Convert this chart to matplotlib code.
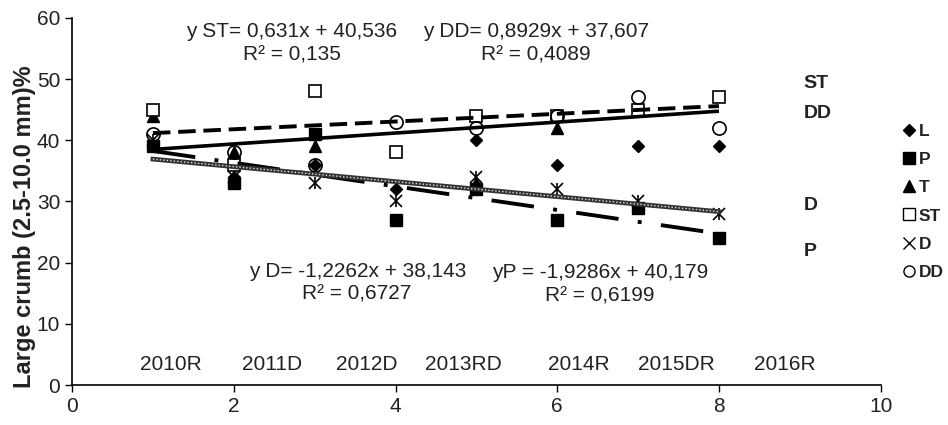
import numpy as np
import matplotlib
matplotlib.use("Agg")
import matplotlib.pyplot as plt
from matplotlib.lines import Line2D

plt.rcParams['font.family'] = ['Liberation Sans', 'DejaVu Sans']

# ---- data ----
x = [1, 2, 3, 4, 5, 6, 7, 8]
L = [39, 34, 36, 32, 40, 36, 39, 39]
P = [39, 33, 41, 27, 32, 27, 29, 24]
T = [44, 38, 39, np.nan, 33, 42, np.nan, np.nan]
ST = [45, 36, 48, 38, 44, 44, 45, 47]
D = [40, 34, 33, 30, 34, 32, 30, 28]
DD = [41, 38, 36, 43, 42, 44, 47, 42]

# trend line coefficients (slope, intercept) as shown on the chart
trend_ST = (0.631, 40.536)
trend_DD = (0.8929, 37.607)
trend_D = (-1.2262, 38.143)
trend_P = (-1.9286, 40.179)

year_labels = ["2010R", "2011D", "2012D", "2013RD", "2014R", "2015DR", "2016R"]
year_pos = [1.22, 2.47, 3.65, 4.84, 6.27, 7.47, 8.81]

fig = plt.figure(figsize=(9.48, 4.25), dpi=100)
ax = fig.add_axes([0.076, 0.094, 0.853, 0.864])

# markers
ms = 8
ax.plot(x, L, linestyle='none', marker='D', ms=6.5, color='black', zorder=3)
ax.plot(x, P, linestyle='none', marker='s', ms=ms, color='black', zorder=3)
ax.plot(x, T, linestyle='none', marker='^', ms=ms, color='black', zorder=3)
ax.plot(x, ST, linestyle='none', marker='s', ms=ms + 0.5, mfc='white', mec='black', mew=1.2, zorder=3)
ax.plot(x, D, linestyle='none', marker='x', ms=ms + 1, color='black', mew=1.2, zorder=3)
ax.plot(x, D, linestyle='none', marker='|', ms=ms + 1, color='black', mew=1.2, zorder=3)
ax.plot(x, DD, linestyle='none', marker='o', ms=ms + 1.5, mfc='none', mec='black', mew=1.2, zorder=3)

xl = np.array([min(x), max(x)])
ax.plot(xl, trend_DD[0] * xl + trend_DD[1], color='black', lw=2.6, solid_capstyle='butt', zorder=4)
ax.plot(xl, trend_ST[0] * xl + trend_ST[1], color='black', lw=2.8,
        linestyle=(0, (4.5, 2)), zorder=4)
ax.plot(xl, trend_P[0] * xl + trend_P[1], color='black', lw=2.8,
        linestyle=(0, (11, 5, 1, 5)), zorder=4)
ax.plot(xl, trend_D[0] * xl + trend_D[1], color='#333333', lw=3.4, zorder=4)
ax.plot(xl, trend_D[0] * xl + trend_D[1], color='#dddddd', lw=1.0,
        linestyle=(0, (1, 1.5)), zorder=4)

# equations
fs = 15
tc = '#222222'
ax.text(2.72, 57.7, "y ST= 0,631x + 40,536", ha='center', va='center', fontsize=fs, color=tc)
ax.text(2.72, 54.0, "R² = 0,135", ha='center', va='center', fontsize=fs, color=tc)
ax.text(5.74, 57.7, "y DD= 0,8929x + 37,607", ha='center', va='center', fontsize=fs, color=tc)
ax.text(5.74, 54.0, "R² = 0,4089", ha='center', va='center', fontsize=fs, color=tc)
ax.text(3.53, 18.6, "y D= -1,2262x + 38,143", ha='center', va='center', fontsize=fs, color=tc)
ax.text(3.52, 14.9, "R² = 0,6727", ha='center', va='center', fontsize=fs, color=tc)
ax.text(6.53, 18.4, "yP = -1,9286x + 40,179", ha='center', va='center', fontsize=fs, color=tc)
ax.text(6.53, 14.6, "R² = 0,6199", ha='center', va='center', fontsize=fs, color=tc)

# bold line labels
for lab, yy in [("ST", 49.3), ("DD", 44.3), ("D", 29.3), ("P", 21.9)]:
    ax.text(9.05, yy, lab, ha='left', va='center', fontsize=14, fontweight='bold', color=tc)

# year labels
for lab, xp in zip(year_labels, year_pos):
    ax.text(xp, 3.3, lab, ha='center', va='center', fontsize=15, color=tc)

ax.set_xlim(0, 10)
ax.set_ylim(0, 60)
ax.set_xticks([0, 2, 4, 6, 8, 10])
ax.set_yticks([0, 10, 20, 30, 40, 50, 60])
ax.tick_params(labelsize=15, direction='out', length=5, width=1, colors='black', labelcolor=tc)
for s in ['top', 'right']:
    ax.spines[s].set_visible(False)
for s in ['left', 'bottom']:
    ax.spines[s].set_linewidth(1.2)
ax.set_ylabel("Large crumb (2.5-10.0 mm)%", fontsize=17, fontweight='bold', color=tc)
ax.yaxis.set_label_coords(-0.044, 0.43)

# legend
handles = [
    Line2D([], [], linestyle='none', marker='D', ms=6.5, color='black'),
    Line2D([], [], linestyle='none', marker='s', ms=ms, color='black'),
    Line2D([], [], linestyle='none', marker='^', ms=ms, color='black'),
    Line2D([], [], linestyle='none', marker='s', ms=ms, mfc='white', mec='black', mew=1.0),
    Line2D([], [], linestyle='none', marker='x', ms=ms, color='black', mew=1.0),
    Line2D([], [], linestyle='none', marker='o', ms=ms, mfc='none', mec='black', mew=1.0),
]
leg = fig.legend(handles, ["L", "P", "T", "ST", "D", "DD"], loc='center left',
                 bbox_to_anchor=(0.937, 0.525), frameon=False, handlelength=0.6,
                 handletextpad=0.25, labelspacing=0.75,
                 prop={'weight': 'bold', 'size': 12.5})
for t in leg.get_texts():
    t.set_color(tc)

fig.savefig("out.png", dpi=100)
